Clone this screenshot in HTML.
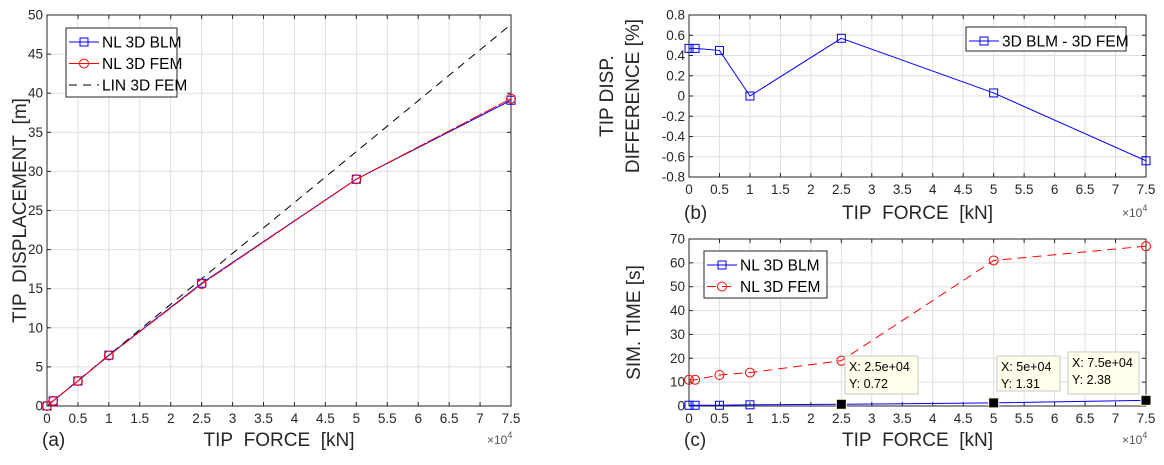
<!DOCTYPE html>
<html><head><meta charset="utf-8"><style>
body{margin:0;background:#fff;}
svg{display:block;font-family:"Liberation Sans",Arial,sans-serif;}
</style></head><body>
<svg id="s" width="1164" height="465" viewBox="0 0 1164 465" xmlns="http://www.w3.org/2000/svg"></svg>
<script>
const forces = [0, 1000, 5000, 10000, 25000, 50000, 75000];
const dispBLM = [0, 0.65, 3.2, 6.5, 15.7, 29.0, 39.1];
const dispFEM = [0, 0.65, 3.2, 6.45, 15.6, 29.0, 39.3];
const linForces = [0, 75000];
const dispLIN = [0, 48.8];
const diffPct = [0.47, 0.47, 0.45, 0.0, 0.57, 0.03, -0.64];
const timeBLM = [0.3, 0.3, 0.3, 0.5, 0.72, 1.31, 2.38];
const timeFEM = [11, 11, 13, 14, 19, 61, 67];
const tipX = [25000, 50000, 75000];
const tipY = [0.72, 1.31, 2.38];
const tipLabelX = ["2.5e+04", "5e+04", "7.5e+04"];
const xTicks = [0,0.5,1,1.5,2,2.5,3,3.5,4,4.5,5,5.5,6,6.5,7,7.5];
const yTicksA = [0,5,10,15,20,25,30,35,40,45,50];
const yTicksB = [-0.8,-0.6,-0.4,-0.2,0,0.2,0.4,0.6,0.8];
const yTicksC = [0,10,20,30,40,50,60,70];

const S = document.getElementById('s');
const NS = 'http://www.w3.org/2000/svg';
const SP = '\u00a0\u00a0';
function mk(tag, at, parent, txt){
  const e = document.createElementNS(NS, tag);
  for (const k in at) e.setAttribute(k, at[k]);
  if (txt !== undefined) e.textContent = txt;
  (parent || S).appendChild(e);
  return e;
}
function axes(name, L, R, T, B, y0, y1, yTicks, ylabelLines, ylabelX, letter, xlabelY){
  const g = mk('g', {});
  
  
  const sx = v => L + (v / 75000) * (R - L);
  const sy = v => B - (v - y0) / (y1 - y0) * (B - T);
  mk('rect', {x:L, y:T, width:R-L, height:B-T, fill:'#fff'}, g);
  xTicks.forEach(t => {
    const x = L + t/7.5*(R-L);
    mk('line', {x1:x, x2:x, y1:T, y2:B, stroke:'#dfdfdf', 'stroke-width':1}, g);
    mk('line', {x1:x, x2:x, y1:B, y2:B-4, stroke:'#262626'}, g);
    mk('line', {x1:x, x2:x, y1:T, y2:T+4, stroke:'#262626'}, g);
    const tl = mk('text', {x:x, y:B+17, 'text-anchor':'middle', 'font-size':13.5, fill:'#262626'}, g, String(t));
    
    
  });
  yTicks.forEach(t => {
    const y = sy(t);
    mk('line', {x1:L, x2:R, y1:y, y2:y, stroke:'#dfdfdf'}, g);
    mk('line', {x1:L, x2:L+4, y1:y, y2:y, stroke:'#262626'}, g);
    mk('line', {x1:R, x2:R-4, y1:y, y2:y, stroke:'#262626'}, g);
    const tl = mk('text', {x:L-4, y:y+4.5, 'text-anchor':'end', 'font-size':13.5, fill:'#262626'}, g, String(t));
    
    
  });
  mk('rect', {x:L, y:T, width:R-L, height:B-T, fill:'none', stroke:'#262626', 'stroke-width':1}, g);
  const xl = mk('text', {x:(L+R)/2, y:xlabelY, 'text-anchor':'middle', 'font-size':19, fill:'#262626'}, g, 'TIP' + SP + 'FORCE' + SP + '[kN]');
  
  
  const lt = mk('text', {x:L-5, y:xlabelY, 'font-size':19, fill:'#262626'}, g, letter);
  
  
  const ex = mk('text', {x:R-24, y:xlabelY-2, 'font-size':12, fill:'#555'}, g);
  
  
  mk('tspan', {}, ex, '×10');
  mk('tspan', {dy:-6, 'font-size':9}, ex, '4');
  ylabelLines.forEach((txt, i) => {
    const x = ylabelX + i*26, y = (T+B)/2;
    const yl = mk('text', {x:x, y:y, transform:`rotate(-90 ${x} ${y})`, 'text-anchor':'middle', 'font-size':19, fill:'#262626'}, g, txt);
    
    
  });
  return {g, sx, sy};
}
function series(ax, xs, ys, color, dash, marker, name){
  const g = mk('g', {}, ax.g);
  
  
  const pts = xs.map((x,i)=>ax.sx(x)+','+ax.sy(ys[i])).join(' ');
  const at = {points:pts, fill:'none', stroke:color, 'stroke-width':1};
  if (dash) at['stroke-dasharray'] = dash;
  mk('polyline', at, g);
  if (marker) xs.forEach((x,i)=>{
    const cx = ax.sx(x), cy = ax.sy(ys[i]);
    const m = marker==='s' ? mk('rect', {x:cx-4, y:cy-4, width:8, height:8, fill:'none', stroke:color}, g)
                           : mk('circle', {cx:cx, cy:cy, r:4.5, fill:'none', stroke:color}, g);
    
    
  });
}
function legend(parent, x, y, w, h, rows, name){
  const g = mk('g', {}, parent);
  
  
  mk('rect', {x:x, y:y, width:w, height:h, fill:'#fff', stroke:'#262626'}, g);
  rows.forEach((r,i)=>{
    const ry = y + 14 + i*21.5;
    const at = {x1:x+3, x2:x+33, y1:ry, y2:ry, stroke:r.c};
    if (r.d) at['stroke-dasharray'] = r.d;
    mk('line', at, g);
    if (r.m==='s') mk('rect', {x:x+14, y:ry-4, width:8, height:8, fill:'none', stroke:r.c}, g);
    if (r.m==='o') mk('circle', {cx:x+18, cy:ry, r:4.5, fill:'none', stroke:r.c}, g);
    const t = mk('text', {x:x+36, y:ry+5.5, 'font-size':15.5, fill:'#000'}, g, r.t);
    
    
  });
}

// (a)
const A = axes('panel-a-displacement', 47, 511, 15, 406, 0, 50, yTicksA, ['TIP' + SP + 'DISPLACEMENT' + SP + '[m]'], 26, '(a)', 446);
series(A, linForces, dispLIN, '#000', '8,6', null, 'lin-3d-fem-line');
series(A, forces, dispBLM, '#0000ff', null, 's', 'nl-3d-blm-line');
series(A, forces, dispFEM, '#ff0000', '14,2', 'o', 'nl-3d-fem-line');
legend(A.g, 66, 28, 111, 69, [{t:'NL 3D BLM',c:'#0000ff',m:'s'},{t:'NL 3D FEM',c:'#ff0000',m:'o'},{t:'LIN 3D FEM',c:'#000',d:'8,6'}], 'legend-a');

// (b)
const B = axes('panel-b-difference', 689, 1146, 15, 177, -0.8, 0.8, yTicksB, ['TIP DISP.', 'DIFFERENCE [%]'], 613, '(b)', 219);
series(B, forces, diffPct, '#0000ff', null, 's', 'difference-line');
legend(B.g, 966, 27, 160, 24, [{t:'3D BLM - 3D FEM',c:'#0000ff',m:'s'}], 'legend-b');

// (c)
const C = axes('panel-c-sim-time', 689, 1146, 239, 406, 0, 70, yTicksC, ['SIM. TIME [s]'], 640, '(c)', 446);
series(C, forces, timeFEM, '#ff0000', '9,6', 'o', 'nl-3d-fem-time-line');
series(C, forces, timeBLM, '#0000ff', null, 's', 'nl-3d-blm-time-line');
legend(C.g, 704, 251, 123, 47, [{t:'NL 3D BLM',c:'#0000ff',m:'s'},{t:'NL 3D FEM',c:'#ff0000',m:'o',d:'9,6'}], 'legend-c');
// datatips
const boxes = [[845,356,73,38],[997,356,63,35],[1068,352,71,42]];
tipX.forEach((x,i)=>{
  const g = mk('g', {}, C.g);
  
  
  const cx = C.sx(x), cy = C.sy(tipY[i]);
  mk('rect', {x:cx-5, y:cy-5, width:10, height:10, fill:'#000', stroke:'#ffffe0'}, g);
  const b = boxes[i];
  mk('rect', {x:b[0], y:b[1], width:b[2], height:b[3], fill:'#ffffeb', stroke:'#c8c8c8'}, g);
  mk('text', {x:b[0]+4, y:b[1]+15, 'font-size':12.5, fill:'#000'}, g, 'X: ' + tipLabelX[i]);
  mk('text', {x:b[0]+4, y:b[1]+32, 'font-size':12.5, fill:'#000'}, g, 'Y: ' + tipY[i]);
});
</script>
</body></html>
